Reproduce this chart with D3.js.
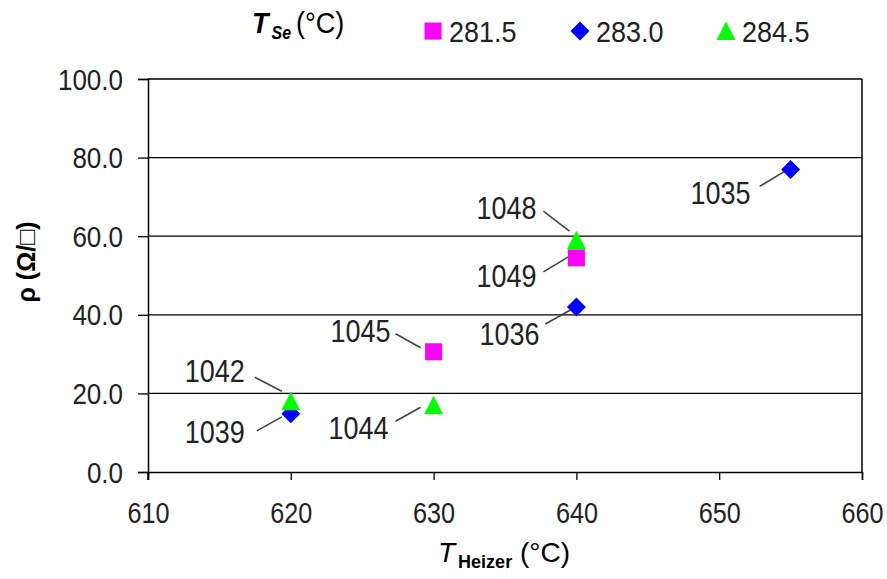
<!DOCTYPE html>
<html>
<head>
<meta charset="utf-8">
<script src="https://cdn.jsdelivr.net/npm/d3@7"></script>
<style>
  html, body { margin: 0; padding: 0; background: #fff; }
  svg { display: block; font-family: "Liberation Sans", Arial, sans-serif; }
</style>
</head>
<body>
<svg id="chart" width="887" height="579"></svg>
<script>
// Sheet resistance vs. heater temperature, grouped by selenium source temperature
const seriesNames = ["281.5", "283.0", "284.5"];
const seriesColors = ["#ff00ff", "#0000ff", "#00ff00"];
const seriesShapes = ["square", "diamond", "triangle"];

const heaterTemp281 = [630, 640];
const rho281 = [30.6, 54.5];
const sample281 = ["1045", "1049"];

const heaterTemp283 = [620, 640, 655];
const rho283 = [14.8, 42.0, 77.0];
const sample283 = ["1039", "1036", "1035"];

const heaterTemp284 = [620, 630, 640];
const rho284 = [18.0, 17.0, 59.0];
const sample284 = ["1042", "1044", "1048"];

const xTicks = [610, 620, 630, 640, 650, 660];
const yTicks = [0, 20, 40, 60, 80, 100];

const svg = d3.select("#chart");
const plotL = 148, plotR = 862, plotT = 79, plotB = 472;

const x = d3.scaleLinear().domain([610, 660]).range([plotL, plotR]);
const y = d3.scaleLinear().domain([0, 100]).range([plotB, plotT]);

// horizontal gridlines
svg.append("g").selectAll("line").data(yTicks.filter(v => v > 0)).join("line")
  .attr("x1", plotL).attr("x2", plotR)
  .attr("y1", d => y(d)).attr("y2", d => y(d))
  .attr("stroke", "#000").attr("stroke-width", 1.3);

// plot frame (right side)
svg.append("line").attr("x1", plotR).attr("x2", plotR).attr("y1", plotT).attr("y2", plotB)
  .attr("stroke", "#000").attr("stroke-width", 1.5);

// axes
const xAxis = svg.append("g").attr("transform", `translate(0,${plotB})`)
  .call(d3.axisBottom(x).tickValues(xTicks).tickFormat(d3.format("d")).tickSize(8).tickPadding(22));
const yAxis = svg.append("g").attr("transform", `translate(${plotL},0)`)
  .call(d3.axisLeft(y).tickValues(yTicks).tickFormat(d3.format(".1f")).tickSize(10).tickPadding(15));
[xAxis, yAxis].forEach(g => {
  g.select(".domain").attr("stroke", "#000").attr("stroke-width", 1.5);
  g.selectAll(".tick line").attr("stroke", "#000").attr("stroke-width", 1.3);
  g.selectAll("text").attr("fill", "#222").attr("font-size", 26)
    .attr("font-family", "Liberation Sans, Arial, sans-serif");
});
// stretch tick labels vertically around their own position
xAxis.selectAll(".tick text").attr("dy", null).attr("dominant-baseline", "hanging")
  .attr("transform", "translate(0,30) scale(0.97,1.12) translate(0,-30)");
yAxis.selectAll(".tick text").attr("dy", null).attr("dominant-baseline", "central")
  .attr("transform", "scale(1,1.12)");
// y axis extends a bit below the x axis
svg.append("line").attr("x1", plotL).attr("x2", plotL).attr("y1", plotB).attr("y2", plotB + 8)
  .attr("stroke", "#000").attr("stroke-width", 1.5);

// axis titles
const xt = svg.append("text").attr("x", 504).attr("y", 562).attr("text-anchor", "middle")
  .attr("fill", "#000").attr("font-size", 28);
xt.append("tspan").attr("font-style", "italic").text("T");
xt.append("tspan").attr("font-weight", "bold").attr("font-size", 18).attr("dy", 6).attr("dx", 3).text("Heizer");
xt.append("tspan").attr("dy", -6).text(" (°C)");

svg.append("text").attr("transform", "translate(35,262) rotate(-90)")
  .attr("text-anchor", "middle").attr("font-size", 25).attr("font-weight", "bold")
  .attr("fill", "#000").text("ρ (Ω/□)");

// marker shapes (18 px boxes)
const shapePaths = {
  square: d3.path(),
  diamond: d3.path(),
  triangle: d3.path()
};
shapePaths.square.rect(-8.5, -8.5, 17, 17);
shapePaths.diamond.moveTo(0, -9.5); shapePaths.diamond.lineTo(9.5, 0);
shapePaths.diamond.lineTo(0, 9.5); shapePaths.diamond.lineTo(-9.5, 0); shapePaths.diamond.closePath();
shapePaths.triangle.moveTo(0, -9.5); shapePaths.triangle.lineTo(9.5, 9);
shapePaths.triangle.lineTo(-9.5, 9); shapePaths.triangle.closePath();
function marker(g, shape, color) {
  g.append("path").attr("d", shapePaths[shape].toString()).attr("fill", color);
}

// series data and label placement (label center / leader line offsets in px)
const series = [
  { xs: heaterTemp281, ys: rho281, ids: sample281, i: 0 },
  { xs: heaterTemp283, ys: rho283, ids: sample283, i: 1 },
  { xs: heaterTemp284, ys: rho284, ids: sample284, i: 2 }
];
const labelOffsets = {
  "1035": { t: [-70, 24], l: [-31, 17, -6, 2] },
  "1036": { t: [-67, 27], l: [-31, 17, -6, 3] },
  "1048": { t: [-70, -32], l: [-33, -29, -7, -9] },
  "1049": { t: [-70, 19], l: [-33, 14, -8, -1] },
  "1045": { t: [-73, -20], l: [-38, -18, -13, -4] },
  "1042": { t: [-76, -30], l: [-36, -24, -9, -10] },
  "1039": { t: [-76, 18], l: [-34, 17, -9, 3] },
  "1044": { t: [-75, 23], l: [-38, 16, -13, 2] }
};

const layer = svg.append("g");
// leader lines and labels
series.forEach(s => {
  s.xs.forEach((xv, k) => {
    const px = x(xv), py = y(s.ys[k]);
    const o = labelOffsets[s.ids[k]];
    layer.append("line")
      .attr("x1", px + o.l[0]).attr("y1", py + o.l[1])
      .attr("x2", px + o.l[2]).attr("y2", py + o.l[3])
      .attr("stroke", "#444").attr("stroke-width", 1.6);
    layer.append("text")
      .attr("transform", `translate(${px + o.t[0]},${py + o.t[1]}) scale(1,1.15)`)
      .attr("text-anchor", "middle").attr("dominant-baseline", "central")
      .attr("font-size", 27).attr("fill", "#222").text(s.ids[k]);
  });
});
// markers drawn in series order so later series sit on top
series.forEach(s => {
  s.xs.forEach((xv, k) => {
    const g = layer.append("g").attr("transform", `translate(${x(xv)},${y(s.ys[k])})`);
    marker(g, seriesShapes[s.i], seriesColors[s.i]);
  });
});

// legend
const lt = svg.append("text").attr("transform", "translate(252,33) scale(1,1.12)")
  .attr("fill", "#000").attr("font-size", 27);
lt.append("tspan").attr("font-style", "italic").attr("font-weight", "bold").text("T");
lt.append("tspan").attr("font-weight", "bold").attr("font-style", "italic").attr("font-size", 16)
  .attr("dy", 5).attr("dx", 3).text("Se");
lt.append("tspan").attr("dy", -5).attr("dx", 5).text("(°C)");

const legendX = [433, 580, 726];
seriesNames.forEach((name, i) => {
  const g = svg.append("g").attr("transform", `translate(${legendX[i]},31)`);
  marker(g, seriesShapes[i], seriesColors[i]);
  g.append("text").attr("transform", "translate(16,0) scale(1,1.12)")
    .attr("dominant-baseline", "central").attr("font-size", 27)
    .attr("fill", "#222").text(name);
});
</script>
</body>
</html>
